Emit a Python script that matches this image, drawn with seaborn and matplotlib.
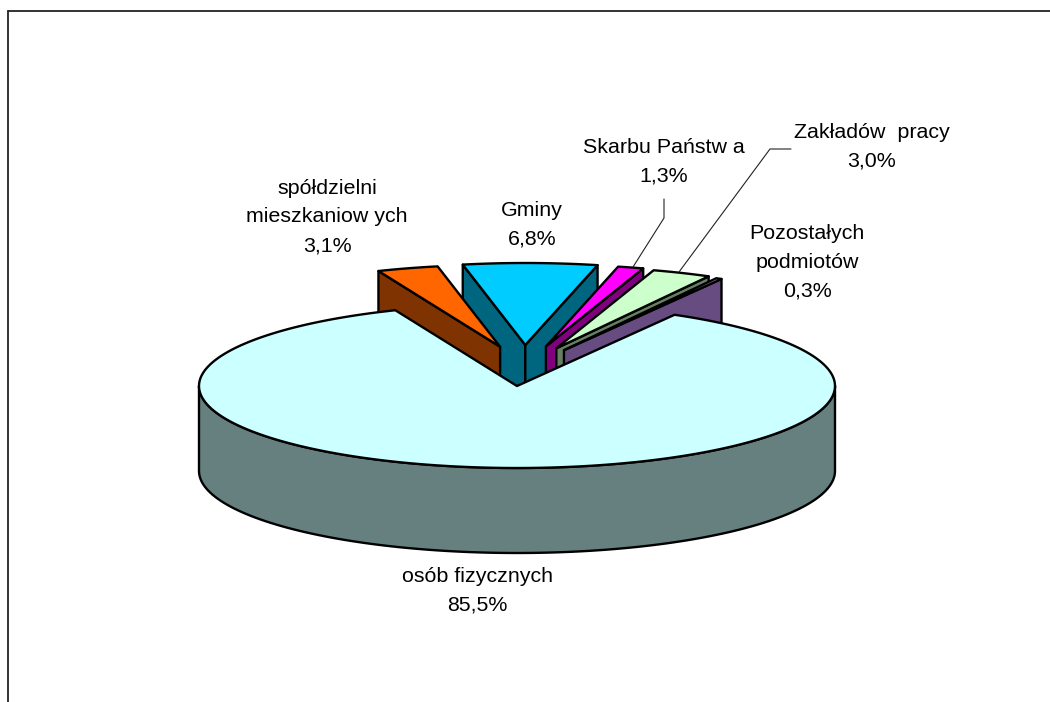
"""Exploded 3D-style pie of ownership shares, drawn on a pixel-sized axes."""
import numpy as np
import seaborn as sns
import matplotlib.pyplot as plt
from matplotlib.patches import Polygon

# small slices, clockwise from the left edge of the big slice
labels = ["spółdzielni\nmieszkaniow ych", "Gminy", "Skarbu Państw a",
          "Zakładów  pracy", "Pozostałych\npodmiotów"]
shares = [3.1, 6.8, 1.3, 3.0, 0.3]
share_texts = ["3,1%", "6,8%", "1,3%", "3,0%", "0,3%"]
big_label = "osób fizycznych"
big_share = 85.5
big_text = "85,5%"

face_colors = ["#FF6600", "#00CCFF", "#FF00FF", "#CCFFCC", "#CC99FF"]
side_colors = ["#7F3300", "#006680", "#800080", "#668066", "#664C80"]
big_face = "#CCFFFF"
big_side = "#668080"

CX, CY, RX, RY = 517, 386, 318, 82
DEPTH = 85
START = -22.5
LW = 1.7

LABEL_POS = [(327, 217), (532, 225), (664, 162), (872, 147), (807, 262)]
BIG_POS = (477, 591)
FONT = 15.4
SPACING = 1.66
# orange lies over the blue wall, the rest stack left to right
DRAW_ORDER = [1, 0, 2, 3, 4]


def rim(theta, dx=0, dy=0):
    """Point(s) on the top ellipse, theta in degrees clockwise from north."""
    rad = np.radians(theta)
    return np.column_stack([CX + dx + RX*np.sin(rad), CY + dy - RY*np.cos(rad)])


def side(ax, point, color):
    """Flat side hanging below one radial edge of a slice."""
    (x_a, y_a), (x_b, y_b) = point
    pts = [(x_a, y_a), (x_b, y_b), (x_b, y_b + DEPTH), (x_a, y_a + DEPTH)]
    ax.add_patch(Polygon(pts, closed=True, fc=color, ec="black", lw=LW, joinstyle="round"))


def draw_small(ax, theta_a, theta_b, face, dark):
    """Draw one exploded slice: visible sides first, then the top."""
    mid = np.radians((theta_a + theta_b)/2)
    dx = 7 + 82*np.sin(mid)
    dy = -41*np.cos(mid)
    apex = (CX + dx, CY + dy)
    if theta_a < 0:
        side(ax, [apex, rim([theta_a], dx, dy)[0]], dark)
    if theta_b > 0:
        side(ax, [apex, rim([theta_b], dx, dy)[0]], dark)
    arc = rim(np.linspace(theta_a, theta_b, 30), dx, dy)
    ax.add_patch(Polygon(np.vstack([[apex], arc]), closed=True, fc=face, ec="black",
                         lw=LW, joinstyle="round"))


def main():
    sns.set_theme(style="white")
    plt.rcParams['font.family'] = ['Liberation Sans', 'DejaVu Sans']
    fig = plt.figure(figsize=(10.5, 7.02), dpi=100)
    ax = fig.add_axes([0, 0, 1, 1])
    ax.set_xlim(0, 1050)
    ax.set_ylim(702, 0)
    ax.axis("off")

    # chart frame is only drawn top and left, the crop cuts the rest
    ax.plot([8, 1050], [10.5, 10.5], color="#222222", lw=1.3, zorder=1)
    ax.plot([8, 8], [10.5, 702], color="#222222", lw=1.3, zorder=1)

    edges = START + np.cumsum([0] + shares)*3.6
    for i in DRAW_ORDER:
        draw_small(ax, edges[i], edges[i+1], face_colors[i], side_colors[i])

    # big slice goes over the hanging sides of the small ones
    theta_a = edges[-1]
    theta_b = theta_a + big_share*3.6
    lower = rim(np.linspace(90, 270, 120))
    wall = np.vstack([lower, lower[::-1] + [0, DEPTH]])
    ax.add_patch(Polygon(wall, closed=True, fc=big_side, ec="black", lw=LW, joinstyle="round"))
    arc = rim(np.linspace(theta_a, theta_b, 240))
    ax.add_patch(Polygon(np.vstack([[(CX, CY)], arc]), closed=True, fc=big_face, ec="black",
                         lw=LW, joinstyle="round"))

    # leader lines
    ax.plot([633, 664, 664], [267, 218, 199], color="#222222", lw=0.8)
    ax.plot([679, 770, 791], [272, 149, 149], color="#222222", lw=0.8)

    for lab, txt, (x_t, y_t) in zip(labels, share_texts, LABEL_POS):
        ax.text(x_t, y_t, "{L}\n{T}".format(L=lab, T=txt), ha="center", va="center",
                fontsize=FONT, color="black", linespacing=SPACING)
    ax.text(BIG_POS[0], BIG_POS[1], "{L}\n{T}".format(L=big_label, T=big_text), ha="center",
            va="center", fontsize=FONT, color="black", linespacing=SPACING)

    fig.savefig("out.png", dpi=100)


main()
